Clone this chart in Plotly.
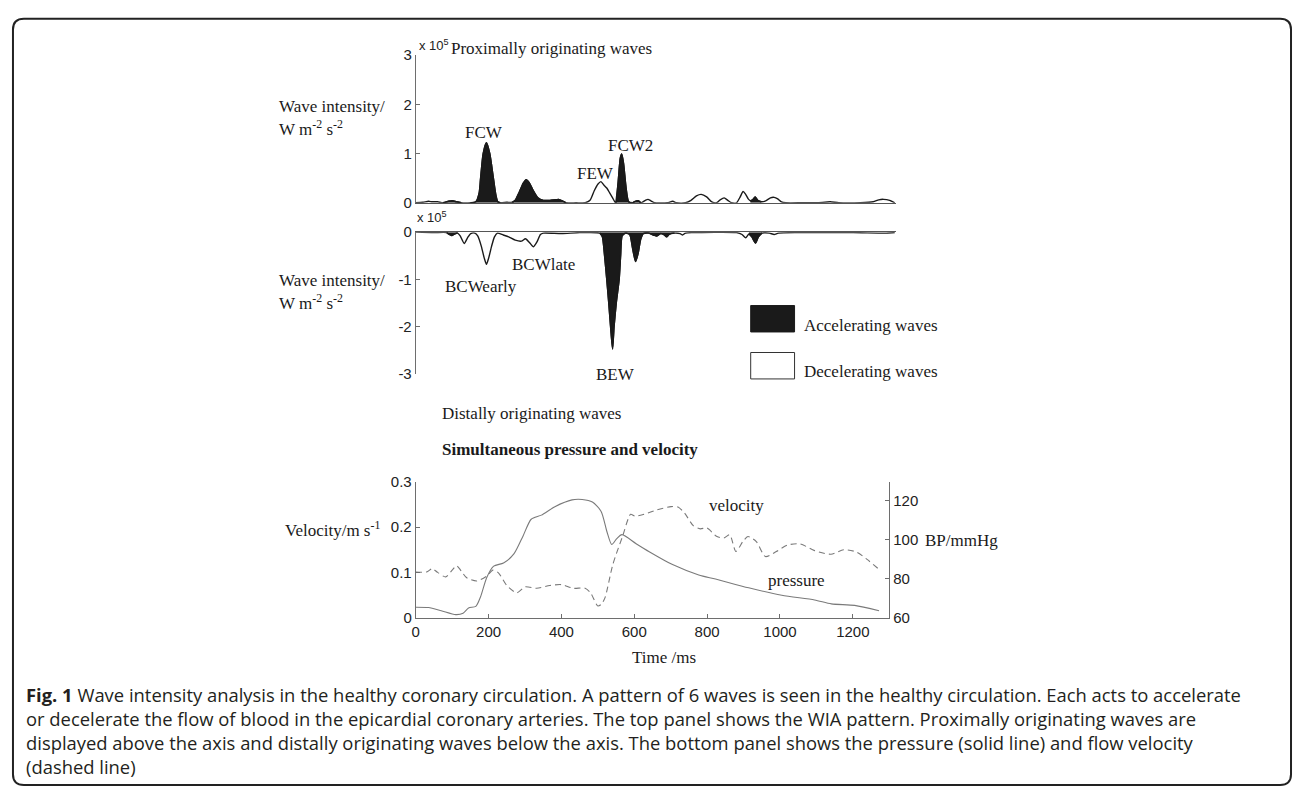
import plotly.graph_objects as go

W, H = 1296, 797

# ---------------- data ----------------
# Proximally originating waves (x 10^5 W m-2 s-2), time in ms
prox_t = [0, 20, 35, 45, 60, 75, 90, 101, 112, 125,
          150, 165, 174, 178, 185, 194, 203, 213, 220, 225,
          232, 250, 265, 273, 283, 295, 303, 312, 322, 335,
          350, 370, 385, 392, 402, 412, 440, 465, 478, 490,
          500, 508, 516, 524, 532, 540, 546, 549, 555, 561,
          565, 570, 577, 584, 595, 602, 610, 618, 630, 637,
          645, 655, 690, 705, 715, 740, 755, 770, 783, 798,
          812, 825, 835, 846, 856, 866, 880, 890, 898, 905,
          912, 918, 924, 931, 938, 948, 960, 973, 983, 993,
          1003, 1015, 1060, 1100, 1137, 1160, 1220, 1255, 1270, 1283,
          1300, 1314]
prox_wi = [0, 0.01, 0.03, 0.02, 0.02, 0, 0.03, 0.04, 0.02, 0,
           0, 0.02, 0.2, 0.5, 1.0, 1.22, 1.0, 0.5, 0.15, 0.02,
           0, 0.01, 0.01, 0.05, 0.2, 0.4, 0.47, 0.4, 0.25, 0.1,
           0.05, 0.05, 0.06, 0.07, 0.04, 0, 0, 0, 0.05, 0.25,
           0.38, 0.43, 0.36, 0.3, 0.2, 0.1, 0.02, 0, 0.4, 0.9,
           0.99, 0.8, 0.3, 0.02, 0, 0.03, 0.04, 0, 0.05, 0.07,
           0.04, 0, 0, 0.03, 0, 0, 0.05, 0.14, 0.17, 0.12,
           0.02, 0, 0.06, 0.1, 0.05, 0, 0, 0.12, 0.23, 0.17,
           0.08, 0.04, 0.06, 0.12, 0.05, 0.02, 0.04, 0.1, 0.11, 0.08,
           0.02, 0, 0, 0, 0.02, 0, 0, 0.02, 0.06, 0.07,
           0.05, 0]
prox_acc_spans = [(75, 125), (150, 232), (265, 412), (549, 595), (595, 618), (918, 948)]

# Distally originating waves (x 10^5 W m-2 s-2)
dist_t = [0, 50, 85, 92, 99, 106, 115, 122, 133, 142,
          151, 162, 170, 180, 188, 194, 200, 208, 216, 224,
          240, 255, 273, 290, 301, 312, 323, 333, 342, 350,
          400, 450, 505, 512, 518, 524, 530, 535, 540, 544,
          550, 558, 562, 566, 575, 587, 595, 603, 610, 617,
          624, 640, 655, 662, 672, 682, 688, 696, 710, 725,
          732, 740, 760, 880, 895, 905, 914, 922, 932, 940,
          950, 970, 983, 995, 1050, 1200, 1290, 1314]
dist_wi = [0, -0.01, -0.01, -0.05, -0.07, -0.04, -0.02, -0.08, -0.24, -0.12,
           -0.03, -0.02, -0.08, -0.3, -0.55, -0.68, -0.55, -0.3, -0.1, -0.02,
           -0.06, -0.1, -0.17, -0.19, -0.14, -0.22, -0.31, -0.2, -0.05, -0.02,
           -0.03, -0.01, -0.02, -0.1, -0.5, -1.0, -1.55, -2.05, -2.47, -2.0,
           -1.5, -1.0, -0.5, -0.08, -0.02, -0.05, -0.35, -0.62, -0.45, -0.15,
           -0.03, -0.02, -0.07, -0.08, -0.03, -0.06, -0.1, -0.04, -0.02, -0.03,
           -0.06, -0.02, -0.01, -0.01, -0.05, -0.12, -0.04, -0.1, -0.23, -0.1,
           -0.02, -0.02, -0.05, -0.02, -0.01, -0.01, -0.02, -0.01]
dist_acc_spans = [(85, 115), (505, 575), (575, 640), (640, 710), (914, 950)]

# Velocity (m/s)
vel_t = [0, 30, 45, 60, 82, 100, 112, 125, 140, 168,
         195, 212, 227, 250, 277, 300, 332, 368, 400, 432,
         465, 480, 500, 510, 520, 541, 568, 590, 602, 626,
         663, 701, 720, 738, 762, 781, 799, 827, 846, 862,
         879, 898, 912, 935, 960, 990, 1020, 1055, 1095, 1140,
         1175, 1210, 1240, 1273]
vel = [0.101, 0.101, 0.108, 0.100, 0.090, 0.105, 0.115, 0.103, 0.088, 0.081,
       0.092, 0.105, 0.099, 0.071, 0.055, 0.068, 0.065, 0.071, 0.073, 0.065,
       0.065, 0.055, 0.026, 0.030, 0.045, 0.117, 0.180, 0.228, 0.224, 0.228,
       0.238, 0.245, 0.244, 0.231, 0.203, 0.196, 0.198, 0.179, 0.176, 0.183,
       0.146, 0.168, 0.179, 0.168, 0.135, 0.146, 0.160, 0.163, 0.148, 0.140,
       0.150, 0.145, 0.128, 0.106]

# Blood pressure (mmHg)
bp_t = [0, 35, 70, 110, 130, 145, 165, 178, 195, 214,
        241, 270, 295, 317, 345, 382, 429, 457, 485, 509,
        525, 538, 552, 566, 605, 641, 705, 777, 823, 914,
        1005, 1095, 1141, 1205, 1272]
bp = [65.4, 65.2, 63.6, 61.6, 62.3, 65.0, 65.8, 70.7, 80.6, 86.4,
      88.0, 92.8, 102.0, 110.4, 112.5, 116.8, 120.3, 120.5, 119.2, 114.4,
      104.0, 97.5, 100.5, 102.5, 97.9, 93.8, 87.2, 81.9, 79.8, 75.3,
      71.5, 69.1, 67.1, 66.3, 63.6]

wi_ticks_top = [0, 1, 2, 3]
wi_ticklabels_top = ["0", "1", "2", "3"]
wi_ticks_bottom = [0, -1, -2, -3]
wi_ticklabels_bottom = ["0", "-1", "-2", "-3"]
time_ticks = [0, 200, 400, 600, 800, 1000, 1200]
vel_ticks = [0, 0.1, 0.2, 0.3]
vel_ticklabels = ["0", "0.1", "0.2", "0.3"]
bp_ticks = [60, 80, 100, 120]

caption_lines = [
    "<b>Fig. 1</b> Wave intensity analysis in the healthy coronary circulation. A pattern of 6 waves is seen in the healthy circulation. Each acts to accelerate",
    "or decelerate the flow of blood in the epicardial coronary arteries. The top panel shows the WIA pattern. Proximally originating waves are",
    "displayed above the axis and distally originating waves below the axis. The bottom panel shows the pressure (solid line) and flow velocity",
    "(dashed line)",
]

assert len(prox_t) == len(prox_wi)
assert len(dist_t) == len(dist_wi)
assert len(vel_t) == len(vel)
assert len(bp_t) == len(bp)


# ---------------- helpers ----------------
def px(x):
    return x / W


def py(y):
    return 1 - y / H


SERIF = "Liberation Serif, Times New Roman, serif"
SANS = "Liberation Sans, Arial, sans-serif"
CAP = "Open Sans, sans-serif"
INK = "#1a1a1a"
AX = "#6e6e6e"

fig = go.Figure()

# top panel: proximal waves
fig.add_trace(go.Scatter(x=prox_t, y=prox_wi, mode="lines",
                         line=dict(color=INK, width=1.4, shape="spline", smoothing=0.6),
                         xaxis="x", yaxis="y", hoverinfo="skip"))
for a, b in prox_acc_spans:
    idx = [i for i, t in enumerate(prox_t) if a <= t <= b]
    fig.add_trace(go.Scatter(x=[prox_t[i] for i in idx], y=[prox_wi[i] for i in idx],
                             mode="lines", fill="tozeroy", fillcolor=INK,
                             line=dict(color=INK, width=1.4, shape="spline", smoothing=0.6),
                             xaxis="x", yaxis="y", hoverinfo="skip"))

# middle panel: distal waves
fig.add_trace(go.Scatter(x=dist_t, y=dist_wi, mode="lines",
                         line=dict(color=INK, width=1.4, shape="spline", smoothing=0.6),
                         xaxis="x2", yaxis="y2", hoverinfo="skip"))
for a, b in dist_acc_spans:
    idx = [i for i, t in enumerate(dist_t) if a <= t <= b]
    fig.add_trace(go.Scatter(x=[dist_t[i] for i in idx], y=[dist_wi[i] for i in idx],
                             mode="lines", fill="tozeroy", fillcolor=INK,
                             line=dict(color=INK, width=1.4, shape="spline", smoothing=0.6),
                             xaxis="x2", yaxis="y2", hoverinfo="skip"))

# bottom panel: velocity (dashed) and pressure (solid)
fig.add_trace(go.Scatter(x=vel_t, y=vel, mode="lines",
                         line=dict(color="#7a7a7a", width=1.1, dash="6px,4px", shape="spline", smoothing=0.7),
                         xaxis="x3", yaxis="y3", hoverinfo="skip"))
fig.add_trace(go.Scatter(x=bp_t, y=bp, mode="lines",
                         line=dict(color="#7a7a7a", width=1.1, shape="spline", smoothing=0.7),
                         xaxis="x3", yaxis="y4", hoverinfo="skip"))

tickfont = dict(family=SANS, size=15, color="#222")

common_y = dict(showgrid=False, zeroline=False, showline=True, linecolor=AX, linewidth=1,
                ticks="inside", ticklen=4, tickcolor=AX, tickfont=tickfont)
common_x_hidden = dict(showgrid=False, zeroline=False, showline=True, linecolor="#555",
                       linewidth=1, ticks="", showticklabels=False)

top_dom_x = [px(413), px(895)]
fig.update_layout(
    xaxis=dict(domain=top_dom_x, range=[0, 1318], anchor="y", **common_x_hidden),
    yaxis=dict(domain=[py(198), py(47)], range=[0, 3], tickvals=wi_ticks_top,
               ticktext=wi_ticklabels_top, anchor="x", **common_y),
    xaxis2=dict(domain=top_dom_x, range=[0, 1318], anchor="y2", side="top", **common_x_hidden),
    yaxis2=dict(domain=[py(373), py(228)], range=[-3, 0], tickvals=wi_ticks_bottom,
                ticktext=wi_ticklabels_bottom, anchor="x2", **common_y),
    xaxis3=dict(domain=[px(413), px(888)], range=[0, 1300], anchor="y3",
                tickvals=time_ticks, showgrid=False, zeroline=False, showline=True,
                linecolor=AX, linewidth=1, ticks="inside", ticklen=4, tickcolor=AX,
                tickfont=tickfont),
    yaxis3=dict(domain=[py(622), py(483)], range=[0, 0.3], tickvals=vel_ticks,
                ticktext=vel_ticklabels, anchor="x3", **common_y),
    yaxis4=dict(range=[60, 129.6], overlaying="y3", side="right", anchor="x3",
                tickvals=bp_ticks, **common_y),
    showlegend=False,
    width=W, height=H,
    margin=dict(l=0, r=0, t=0, b=0),
    paper_bgcolor="white", plot_bgcolor="rgba(0,0,0,0)",
)


def ann(text, x, y, size=17, family=SERIF, xanchor="left", color=INK,
        yanchor="middle", align="left"):
    fig.add_annotation(text=text, x=px(x), y=py(y), xref="paper", yref="paper",
                       xanchor=xanchor, yanchor=yanchor, align=align, showarrow=False,
                       font=dict(family=family, size=size, color=color))


# exponent labels
ann("x 10<sup>5</sup>", 414, 37, size=13, family=SANS, color="#222")
ann("x 10<sup>5</sup>", 412, 213, size=13, family=SANS, color="#222")

# wave panel text
ann("Proximally originating waves", 446, 40)
ann("Wave intensity/", 274, 100)
ann("W m<sup>-2</sup> s<sup>-2</sup>", 274, 122)
ann("FCW", 481, 126, xanchor="center")
ann("FEW", 593, 168, xanchor="center")
ann("FCW2", 628, 139, xanchor="center")
ann("Wave intensity/", 274, 277)
ann("W m<sup>-2</sup> s<sup>-2</sup>", 274, 299)
ann("BCWearly", 478, 284, xanchor="center")
ann("BCWlate", 541, 261, xanchor="center")
ann("BEW", 613, 373, xanchor="center")

# legend boxes
fig.add_shape(type="rect", xref="paper", yref="paper", x0=px(749), x1=px(793),
              y0=py(330), y1=py(303), fillcolor=INK, line=dict(color=INK, width=1))
fig.add_shape(type="rect", xref="paper", yref="paper", x0=px(749), x1=px(793),
              y0=py(378), y1=py(351), fillcolor="white", line=dict(color="#333", width=1))
ann("Accelerating waves", 800, 323)
ann("Decelerating waves", 800, 370)

# bottom panel text
ann("Distally originating waves", 437, 413)
ann("<b>Simultaneous pressure and velocity</b>", 437, 450)
ann("velocity", 735, 507, xanchor="center")
ann("pressure", 795, 584, xanchor="center")
ann("Velocity/m s<sup>-1</sup>", 280, 531)
ann("BP/mmHg", 922, 543)
ann("Time /ms", 662, 663, xanchor="center")

# caption (one block, left aligned)
ann("<br>".join(caption_lines), 20, 686, size=18.4, family=CAP, color="#231f20",
    yanchor="top")

# rounded border
x0, x1, y0, y1 = px(9), px(1291), py(10), py(793)
rx, ry = 11 / W, 11 / H
path = (f"M {x0 + rx},{y0} L {x1 - rx},{y0} Q {x1},{y0} {x1},{y0 - ry} "
        f"L {x1},{y1 + ry} Q {x1},{y1} {x1 - rx},{y1} L {x0 + rx},{y1} "
        f"Q {x0},{y1} {x0},{y1 + ry} L {x0},{y0 - ry} Q {x0},{y0} {x0 + rx},{y0} Z")
fig.add_shape(type="path", path=path, xref="paper", yref="paper",
              line=dict(color="#222", width=2))

fig.write_html("out.html")
